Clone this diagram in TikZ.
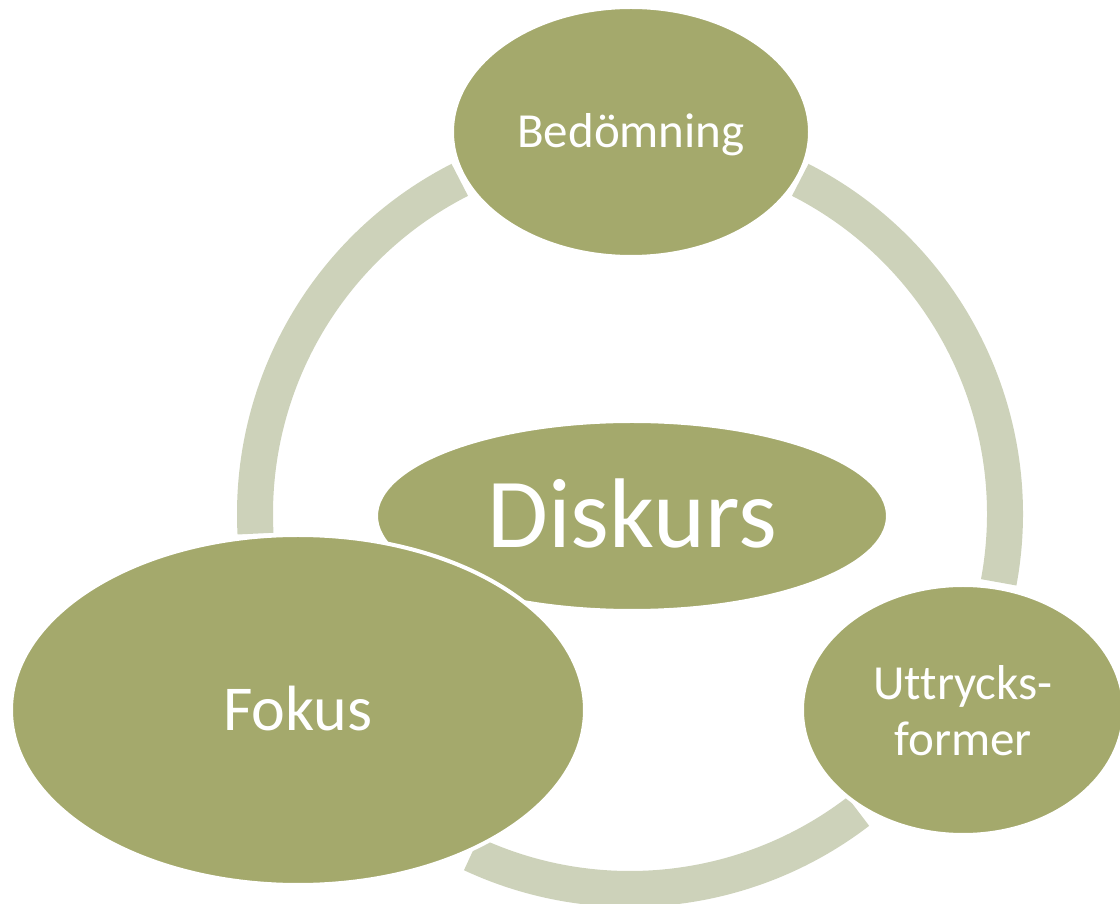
\documentclass[tikz,border=0pt]{standalone}
\usepackage{fontspec}
\setmainfont{Carlito}[Ligatures=NoCommon]
\usetikzlibrary{shapes.geometric}
\definecolor{blobgreen}{HTML}{A4A96C}
\definecolor{ringgrey}{HTML}{CDD2BA}
\begin{document}
\begin{tikzpicture}[x=1pt,y=1pt,
  blob/.style={ellipse, fill=blobgreen, draw=white, line width=4pt, inner sep=0pt, text=white},
  ringarc/.style={draw=ringgrey, line width=36pt}]
\useasboundingbox (0,0) rectangle (1120,903);
\coordinate (C) at (630,389);
\draw[ringarc] ([shift={(117:375pt)}]C) arc[start angle=117,end angle=183,radius=375pt];
\draw[ringarc] ([shift={(63:375pt)}]C) arc[start angle=63,end angle=-10.5,radius=375pt];
\draw[ringarc] ([shift={(245:375pt)}]C) arc[start angle=245,end angle=307.5,radius=375pt];
\node[blob, minimum width=512pt, minimum height=190pt, font=\fontsize{99}{110}\selectfont, text height=63.8pt, text depth=0pt] (dis) at (632,387) {Diskurs};
\node[blob, minimum width=574pt, minimum height=350pt, font=\fontsize{64}{72}\selectfont, text height=41.2pt, text depth=0pt] (fok) at (298,193) {Fokus};
\node[blob, minimum width=358pt, minimum height=250pt, font=\fontsize{49}{56}\selectfont, text height=31.6pt, text depth=0pt] (bed) at (631,771) {Bedömning};
\node[blob, minimum width=322pt, minimum height=250pt, font=\fontsize{49}{56}\selectfont, align=center, text depth=0pt] (utt) at (963,193) {Uttrycks-\\former};
\end{tikzpicture}
\end{document}
